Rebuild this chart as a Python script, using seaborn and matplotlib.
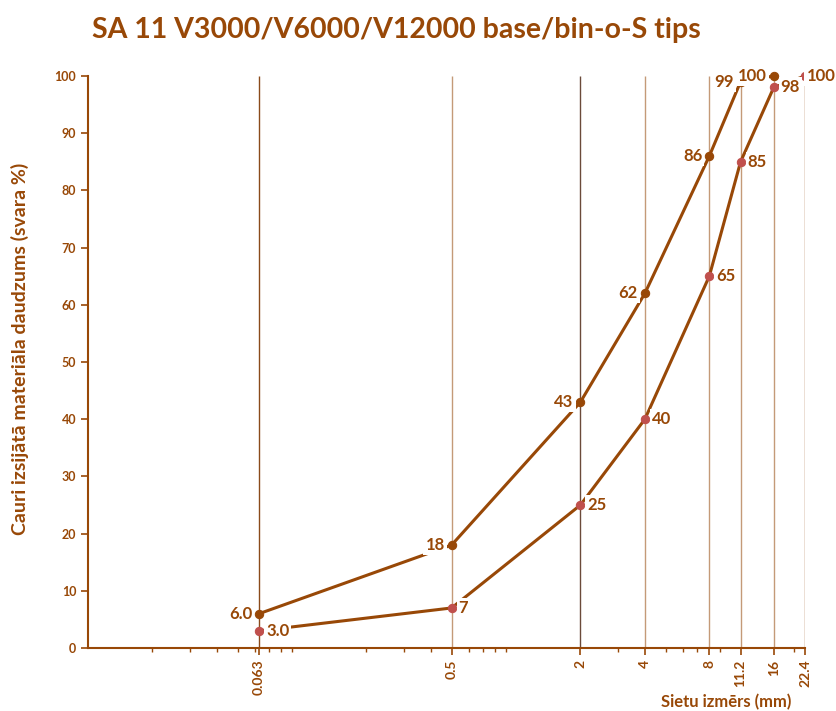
import numpy as np
import pandas as pd
import matplotlib
matplotlib.use("Agg")
import matplotlib.pyplot as plt
import matplotlib.ticker as mticker
import seaborn as sns

sieves = [0.063, 0.5, 2, 4, 8, 11.2, 16, 22.4]
sieve_labels = ["0.063", "0.5", "2", "4", "8", "11.2", "16", "22.4"]

upper_x = [0.063, 0.5, 2, 4, 8, 11.2, 16]
upper_y = [6.0, 18, 43, 62, 86, 99, 100]
upper_txt = ["6.0", "18", "43", "62", "86", "99", "100"]

lower_x = [0.063, 0.5, 2, 4, 8, 11.2, 16, 22.4]
lower_y = [3.0, 7, 25, 40, 65, 85, 98, 100]
lower_txt = ["3.0", "7", "25", "40", "65", "85", "98", "100"]

brown = "#984807"
grid_colors = ["#8a4a1a", "#c49a78", "#6b4a3a", "#c49a78", "#c49a78", "#c49a78", "#c49a78", "#a0602a"]

sns.set_theme(style="white")
plt.rcParams["font.family"] = ["Lato", "DejaVu Sans"]

fig = plt.figure(figsize=(8.37, 7.11), dpi=100)
ax = fig.add_axes([88 / 837, 1 - 648 / 711, (805 - 88) / 837, (648 - 76) / 711])

# vertical lines at each sieve size
for xv, c in zip(sieves, grid_colors):
    ax.vlines(xv, 0, 100, color=c, linewidth=1.0, zorder=1)

df_up = pd.DataFrame({"x": upper_x, "y": upper_y})
df_lo = pd.DataFrame({"x": lower_x, "y": lower_y})
sns.lineplot(data=df_up, x="x", y="y", ax=ax, color=brown, linewidth=2.2,
             marker="o", markersize=6, markerfacecolor=brown, markeredgecolor=brown,
             zorder=3, clip_on=False)
sns.lineplot(data=df_lo, x="x", y="y", ax=ax, color=brown, linewidth=2.2,
             marker="o", markersize=6, markerfacecolor="#c0504d", markeredgecolor="#c0504d",
             zorder=3, clip_on=False)

box = dict(facecolor="white", edgecolor="none", pad=1.5)
for xv, yv, t in zip(upper_x, upper_y, upper_txt):
    ax.annotate(t, (xv, yv), xytext=(-5, 0), textcoords="offset points", ha="right",
                va="center", fontsize=12, fontweight="bold", color=brown, bbox=box,
                zorder=4, annotation_clip=False)
for i, (xv, yv, t) in enumerate(zip(lower_x, lower_y, lower_txt)):
    off = 1 if i == len(lower_x) - 1 else 5
    ax.annotate(t, (xv, yv), xytext=(off, 0), textcoords="offset points", ha="left",
                va="center", fontsize=12, fontweight="bold", color=brown, bbox=box,
                zorder=4, annotation_clip=False)

ax.set_xscale("log")
ax.set_xlim(0.01, 22.4)
ax.set_ylim(0, 100)
ax.xaxis.set_major_locator(mticker.FixedLocator(sieves))
ax.xaxis.set_major_formatter(mticker.FixedFormatter(sieve_labels))
ax.xaxis.set_minor_locator(mticker.LogLocator(base=10, subs=np.arange(2, 10)))
ax.xaxis.set_minor_formatter(mticker.NullFormatter())
ax.set_yticks(range(0, 101, 10))

for s in ["top", "right"]:
    ax.spines[s].set_visible(False)
for s in ["left", "bottom"]:
    ax.spines[s].set_color(brown)
    ax.spines[s].set_linewidth(1.5)

ax.tick_params(axis="both", which="both", bottom=True, left=True)
ax.tick_params(axis="both", which="major", direction="out", length=5, width=1.2,
               color=brown, labelcolor=brown, labelsize=9)
ax.tick_params(axis="x", which="minor", direction="out", length=3, width=1.0, color=brown)
ax.tick_params(axis="x", which="major", labelrotation=90, labelsize=10)
for lab in ax.get_xticklabels() + ax.get_yticklabels():
    lab.set_fontweight("bold")

ax.set_xlabel("")
ax.set_ylabel("")
fig.text(726 / 837, 1 - 702 / 711, "Sietu izmērs (mm)", ha="center", va="center",
         fontsize=12, fontweight="bold", color=brown)
fig.text(20 / 837, 1 - 349 / 711, "Cauri izsijātā materiāla daudzums (svara %)",
         ha="center", va="center", rotation=90, fontsize=14, fontweight="bold", color=brown)

fig.text(396 / 837, 1 - 30 / 711, "SA 11 V3000/V6000/V12000 base/bin-o-S tips",
         ha="center", va="center", fontsize=20.5, fontweight="bold", color=brown)

fig.savefig("out.png", dpi=100, facecolor="white")
